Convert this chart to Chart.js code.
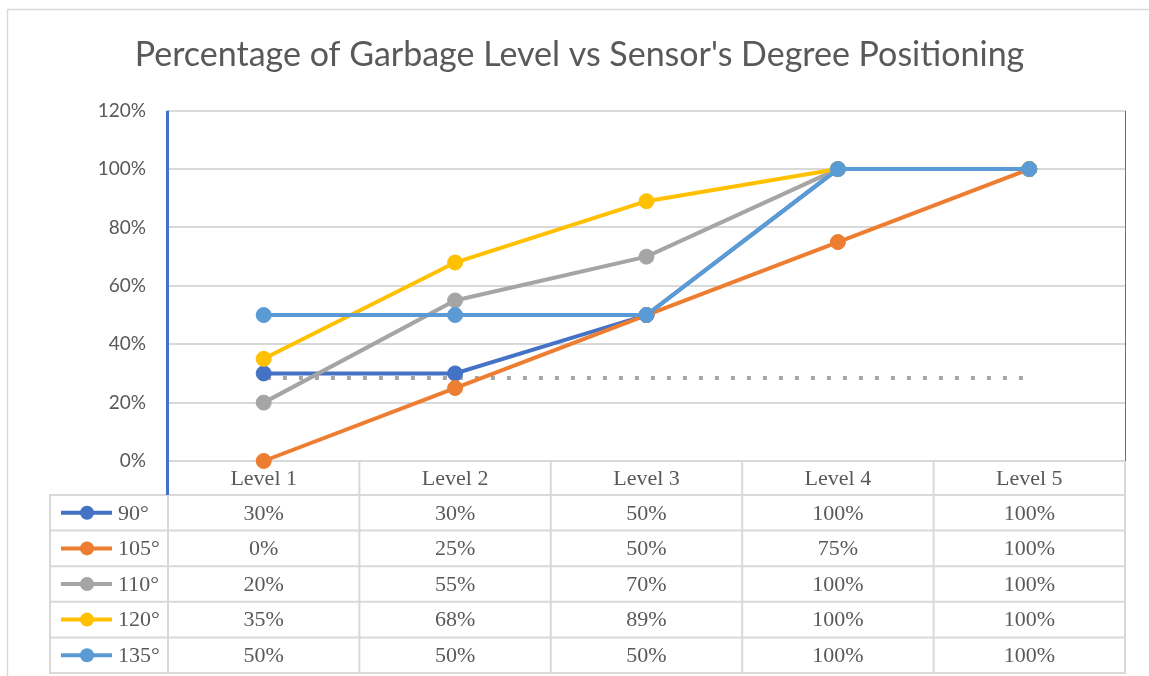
<!DOCTYPE html>
<html>
<head>
<meta charset="utf-8">
<script src="https://cdn.jsdelivr.net/npm/chart.js@4.4.1/dist/chart.umd.min.js"></script>
<style>
    html, body { margin: 0; padding: 0; background: #fff; }
    #chart { display: block; }
</style>
</head>
<body>
<canvas id="chart" width="1149" height="676"></canvas>
<script>
const levels = ['Level 1', 'Level 2', 'Level 3', 'Level 4', 'Level 5'];
const seriesNames = ['90°', '105°', '110°', '120°', '135°'];
const deg90 = [30, 30, 50, 100, 100];
const deg105 = [0, 25, 50, 75, 100];
const deg110 = [20, 55, 70, 100, 100];
const deg120 = [35, 68, 89, 100, 100];
const deg135 = [50, 50, 50, 100, 100];
// dotted grey reference line drawn across the plot (not in the table)
const dottedRef = [28.4, 28.4, 28.4, 28.4, 28.4];
const yTicks = [0, 20, 40, 60, 80, 100, 120];

const series = [deg90, deg105, deg110, deg120, deg135];
const palette = ['#4472C4', '#ED7D31', '#A5A5A5', '#FFC000', '#5B9BD5'];
const textColor = '#595959';
const lineGrey = '#D9D9D9';
const serif = '"Liberation Serif", "Times New Roman", serif';

const tableRowsHeight = 178;

const dataTable = {
    id: 'dataTable',
    beforeDraw(chart) {
        const { ctx } = chart;
        ctx.save();
        ctx.strokeStyle = lineGrey;
        ctx.lineWidth = 1.5;
        ctx.beginPath();
        ctx.moveTo(7.5, chart.height);
        ctx.lineTo(7.5, 9.5);
        ctx.lineTo(chart.width, 9.5);
        ctx.stroke();
        ctx.restore();
    },
    afterDraw(chart) {
        const { ctx, chartArea } = chart;
        const xScale = chart.scales.x;
        const left = chartArea.left;
        const right = chartArea.right;
        const headTop = chartArea.bottom;
        const headBottom = xScale.bottom;
        const tableBottom = headBottom + tableRowsHeight;
        const rowH = tableRowsHeight / series.length;
        const colW = (right - left) / levels.length;
        const legendLeft = left - 118;

        ctx.save();
        ctx.strokeStyle = lineGrey;
        ctx.lineWidth = 2;
        ctx.beginPath();
        // row lines
        for (let i = 0; i <= series.length; i++) {
            const y = headBottom + i * rowH;
            ctx.moveTo(legendLeft, y);
            ctx.lineTo(right + 1, y);
        }
        // column lines
        for (let j = 1; j <= levels.length; j++) {
            const x = left + j * colW;
            ctx.moveTo(x, headTop);
            ctx.lineTo(x, tableBottom + 1);
        }
        ctx.moveTo(left, headBottom);
        ctx.lineTo(left, tableBottom + 1);
        ctx.moveTo(legendLeft, headBottom - 1);
        ctx.lineTo(legendLeft, tableBottom + 1);
        ctx.stroke();

        // axis lines
        ctx.strokeStyle = '#4472C4';
        ctx.lineWidth = 3;
        ctx.beginPath();
        ctx.moveTo(left - 0.5, chartArea.top);
        ctx.lineTo(left - 0.5, headBottom);
        ctx.stroke();
        ctx.lineWidth = 1;
        ctx.beginPath();
        ctx.moveTo(right + 0.5, chartArea.top);
        ctx.lineTo(right + 0.5, headTop);
        ctx.stroke();

        // cells
        ctx.font = `22px ${serif}`;
        ctx.fillStyle = textColor;
        ctx.textBaseline = 'middle';
        series.forEach((values, i) => {
            const cy = headBottom + (i + 0.5) * rowH;
            const color = palette[i];
            ctx.strokeStyle = color;
            ctx.lineWidth = 4;
            ctx.beginPath();
            ctx.moveTo(legendLeft + 11, cy);
            ctx.lineTo(legendLeft + 62, cy);
            ctx.stroke();
            ctx.fillStyle = color;
            ctx.beginPath();
            ctx.arc(legendLeft + 37, cy, 7, 0, Math.PI * 2);
            ctx.fill();

            ctx.fillStyle = textColor;
            ctx.textAlign = 'left';
            ctx.fillText(seriesNames[i], legendLeft + 68, cy + 1);
            ctx.textAlign = 'center';
            values.forEach((v, j) => {
                ctx.fillText(`${v}%`, xScale.getPixelForValue(j), cy + 1);
            });
        });
        ctx.restore();
    }
};

const datasets = series.map((data, i) => ({
    label: seriesNames[i],
    data,
    borderColor: palette[i],
    backgroundColor: palette[i],
    pointBackgroundColor: palette[i],
    pointBorderColor: palette[i],
    borderWidth: 4,
    pointRadius: 7.5,
    pointHoverRadius: 7.5,
    pointBorderWidth: 1,
    tension: 0,
    clip: false,
    order: series.length - 1 - i
}));
datasets.push({
    label: 'reference',
    data: dottedRef,
    borderColor: '#A5A5A5',
    borderWidth: 4,
    borderDash: [4, 12],
    borderDashOffset: 12.8,
    borderCapStyle: 'butt',
    pointRadius: 0,
    pointHoverRadius: 0,
    order: 10
});

new Chart(document.getElementById('chart'), {
    type: 'line',
    data: { labels: levels, datasets },
    options: {
        responsive: false,
        animation: false,
        devicePixelRatio: 1,
        layout: { padding: { left: 34, right: 24, top: 0, bottom: tableRowsHeight + 3 } },
        plugins: {
            legend: { display: false },
            tooltip: { enabled: false },
            title: {
                display: true,
                text: "Percentage of Garbage Level vs Sensor's Degree Positioning",
                color: textColor,
                font: { family: 'Lato', size: 34, weight: 'normal', lineHeight: 1.2 },
                padding: { top: 34.6, bottom: 35.3 }
            }
        },
        scales: {
            x: {
                offset: true,
                grid: { display: false, drawTicks: false },
                border: { display: false },
                ticks: { color: textColor, font: { family: serif, size: 22 }, padding: 5 },
                afterFit(scale) { scale.height = 34; }
            },
            y: {
                min: 0,
                max: 120,
                grid: { color: lineGrey, lineWidth: 2, drawTicks: false },
                border: { display: false },
                ticks: {
                    color: textColor,
                    font: { family: 'Lato', size: 19 },
                    padding: 22,
                    callback: (v) => `${v}%`
                },
                afterBuildTicks(scale) { scale.ticks = yTicks.map((value) => ({ value })); },
                afterFit(scale) { scale.width = 134; }
            }
        }
    },
    plugins: [dataTable]
});
</script>
</body>
</html>
